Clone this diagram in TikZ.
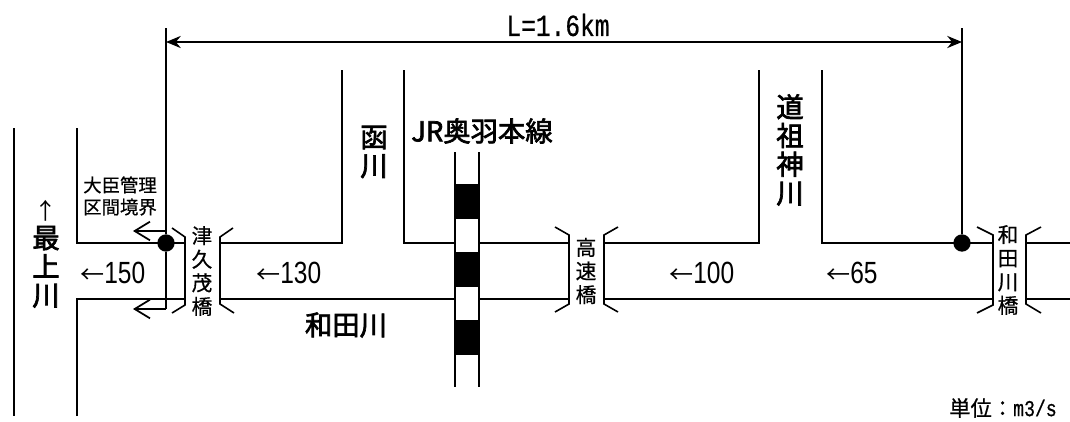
\documentclass[tikz,border=0pt]{standalone}
\usepackage{fontspec}
\usetikzlibrary{arrows.meta}
\newfontfamily\jpfont[FakeBold=0.6]{Noto Sans CJK JP}
\newfontfamily\jpheavy[FakeBold=2.5]{Noto Sans CJK JP}
\newfontfamily\jpplain{Noto Sans CJK JP}
\newfontfamily\numfont[FakeStretch=0.8]{Liberation Sans}
\newfontfamily\monofont[FakeStretch=0.8,FakeBold=0.6]{Liberation Mono}
\tikzset{
 bank/.style={line width=1.6pt},
 bridge/.style={line width=1.2pt},
 bigtext/.style={inner sep=0pt,align=center,font=\jpheavy\fontsize{20.5}{21.5}\selectfont},
 midtext/.style={inner sep=0pt,align=center,font=\jpfont\fontsize{15.5}{17.7}\selectfont},
 smalltext/.style={inner sep=0pt,align=center,font=\jpfont\fontsize{13.8}{16.5}\selectfont},
 flowtext/.style={inner sep=0pt,anchor=west,font=\jpplain\fontsize{18}{20}\selectfont},
 pointdot/.style={circle,fill=black,inner sep=0pt,minimum size=13pt},
 backarrow/.style={line width=1.3pt,-{Straight Barb[length=11.5pt,width=14pt,line width=1.3pt]}}
}
\begin{document}
\begin{tikzpicture}[x=0.75pt,y=-0.75pt]
\useasboundingbox (0,0) rectangle (1070,421);

\draw[bank](14,128)--(14,416);
\draw[bank](77,128)--(77,243)--(185,243);
\draw[bank](77,416)--(77,299)--(185,299);
\draw[bank](220,243)--(342,243)--(342,70);
\draw[bank](404,70)--(404,243)--(455,243);
\draw[bank](479,243)--(569,243);
\draw[bank](220,299)--(455,299);
\draw[bank](479,299)--(569,299);
\draw[bank](604,243)--(759,243)--(759,70);
\draw[bank](822,70)--(822,243)--(993,243);
\draw[bank](604,299)--(993,299);
\draw[bank](1026,243)--(1070,243);
\draw[bank](1026,299)--(1070,299);

\draw[bridge](172,228)--(185,237)--(185,305)--(172,313);
\draw[bridge](233,228)--(220,237)--(220,304)--(234,313);
\draw[bridge](555,227)--(569,235)--(569,304)--(555,312);
\draw[bridge](618,227)--(604,235)--(604,304)--(618,312);
\draw[bridge](977,227)--(993,235)--(993,305)--(977,313);
\draw[bridge](1041,227)--(1026,235)--(1026,304)--(1041,313);

\draw[bridge](455,152)--(455,387);
\draw[bridge](479,152)--(479,387);
\fill[black](455,184) rectangle (479,219);
\fill[black](455,252) rectangle (479,287);
\fill[black](455,320) rectangle (479,355);

\node[pointdot] at (166,243) (dotleft) {};
\node[pointdot] at (962,243) (dotright) {};
\coordinate (topleft) at (166,28);
\coordinate (topright) at (962,28);
\coordinate (dimleft) at (166,42);
\coordinate (dimright) at (962,42);
\coordinate (turn) at (166,309);
\coordinate (arrowup) at (133,231);
\coordinate (arrowdown) at (133,309);
\coordinate (startup) at (166,231);

\draw[bank](topleft)--(dotleft);
\draw[bank](topright)--(dotright);
\draw[bank](dotleft)--(turn);
\draw[line width=1.9pt,{Stealth[length=11pt,width=9pt]}-{Stealth[length=11pt,width=9pt]}](dimleft)--(dimright);
\draw[backarrow](startup)--(arrowup);
\draw[backarrow](turn)--(arrowdown);

\node[inner sep=0pt,font=\monofont\fontsize{23}{24}\selectfont] at (558,25) (length) {L=1.6km};
\node[bigtext] at (46,254) (mogami) {{\jpplain\fontsize{17}{21}\selectfont ↑}\\最\\上\\川};
\node[smalltext] at (120,196) (boundary) {大臣管理\\区間境界};
\node[midtext] at (202,271) (tsukumo) {津\\久\\茂\\橋};
\node[flowtext] at (80,273) (flowa) {←{\numfont\fontsize{23}{25}\selectfont 150}};
\node[flowtext] at (256,273) (flowb) {←{\numfont\fontsize{23}{25}\selectfont 130}};
\node[flowtext] at (669,273) (flowc) {←{\numfont\fontsize{23}{25}\selectfont 100}};
\node[flowtext] at (826,273) (flowd) {←{\numfont\fontsize{23}{25}\selectfont 65}};
\node[bigtext] at (346,325) (wada) {和田川};
\node[bigtext] at (374,152) (hako) {函\\川};
\node[bigtext] at (482,131) (jr) {JR奥羽本線};
\node[midtext] at (586,271) (kosoku) {高\\速\\橋};
\node[bigtext] at (790,150) (dosojin) {道\\祖\\神\\川};
\node[midtext] at (1008,270) (wadabashi) {和\\田\\川\\橋};
\node[inner sep=0pt,anchor=east] at (1057,408) (unit) {{\jpfont\fontsize{16}{18}\selectfont 単位：}{\monofont\fontsize{17}{18}\selectfont m3/s}};
\end{tikzpicture}
\end{document}
